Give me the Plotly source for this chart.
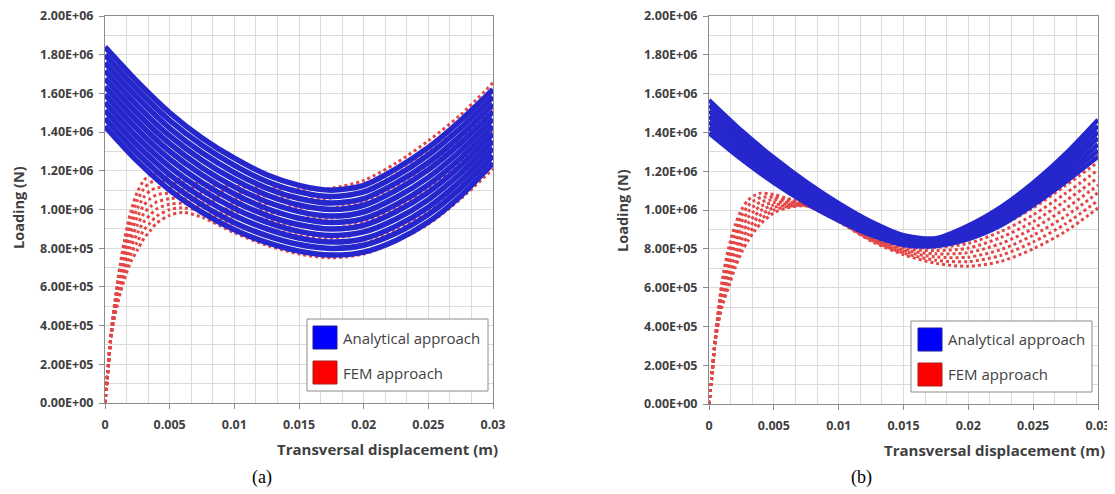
import numpy as np
import plotly.graph_objects as go

# ---------------- data ----------------
# transversal displacement sample positions (m)
x_analytical = [0, 0.0025, 0.005, 0.0075, 0.01, 0.0125, 0.015, 0.0175,
                0.02, 0.0225, 0.025, 0.0275, 0.03]
x_fem = [0, 0.0002, 0.0005, 0.001, 0.0015, 0.002, 0.0025, 0.003, 0.0035,
         0.004, 0.005, 0.006, 0.0075, 0.01, 0.0125, 0.015, 0.0175, 0.02,
         0.0225, 0.025, 0.0275, 0.03]

# loading in MN (converted to N when plotted)
a_analytical_MN = [
    [1.840, 1.660, 1.500, 1.370, 1.265, 1.180, 1.125, 1.100, 1.125, 1.210, 1.320, 1.460, 1.620],
    [1.799, 1.619, 1.460, 1.332, 1.228, 1.145, 1.091, 1.067, 1.091, 1.173, 1.282, 1.421, 1.582],
    [1.758, 1.578, 1.420, 1.293, 1.191, 1.110, 1.057, 1.033, 1.056, 1.136, 1.243, 1.382, 1.544],
    [1.717, 1.537, 1.380, 1.255, 1.154, 1.075, 1.023, 1.000, 1.022, 1.099, 1.205, 1.343, 1.506],
    [1.676, 1.496, 1.340, 1.216, 1.117, 1.040, 0.989, 0.966, 0.987, 1.062, 1.166, 1.304, 1.468],
    [1.635, 1.455, 1.300, 1.178, 1.080, 1.005, 0.955, 0.933, 0.953, 1.025, 1.128, 1.265, 1.430],
    [1.594, 1.414, 1.260, 1.139, 1.043, 0.970, 0.921, 0.899, 0.918, 0.988, 1.089, 1.226, 1.392],
    [1.553, 1.373, 1.220, 1.101, 1.006, 0.935, 0.887, 0.866, 0.884, 0.951, 1.051, 1.187, 1.354],
    [1.512, 1.332, 1.180, 1.062, 0.969, 0.900, 0.853, 0.832, 0.849, 0.914, 1.012, 1.148, 1.316],
    [1.471, 1.291, 1.140, 1.024, 0.932, 0.865, 0.819, 0.799, 0.815, 0.877, 0.974, 1.109, 1.278],
    [1.430, 1.250, 1.100, 0.985, 0.895, 0.830, 0.785, 0.765, 0.780, 0.840, 0.935, 1.070, 1.240],
]
a_fem_MN = [
    [0, 0.150, 0.380, 0.640, 0.840, 0.990, 1.090, 1.150, 1.180, 1.185, 1.170, 1.150, 1.130, 1.120, 1.110, 1.105, 1.110, 1.150, 1.240, 1.355, 1.490, 1.655],
    [0, 0.150, 0.377, 0.623, 0.811, 0.953, 1.047, 1.107, 1.139, 1.149, 1.141, 1.126, 1.106, 1.088, 1.069, 1.057, 1.059, 1.096, 1.182, 1.294, 1.428, 1.591],
    [0, 0.150, 0.374, 0.606, 0.783, 0.916, 1.004, 1.064, 1.097, 1.112, 1.113, 1.103, 1.083, 1.056, 1.029, 1.009, 1.007, 1.041, 1.124, 1.232, 1.366, 1.528],
    [0, 0.150, 0.371, 0.589, 0.754, 0.879, 0.961, 1.021, 1.056, 1.076, 1.084, 1.079, 1.059, 1.024, 0.988, 0.961, 0.956, 0.987, 1.066, 1.171, 1.304, 1.464],
    [0, 0.150, 0.369, 0.571, 0.726, 0.841, 0.919, 0.979, 1.014, 1.039, 1.056, 1.056, 1.036, 0.991, 0.947, 0.914, 0.904, 0.933, 1.009, 1.109, 1.241, 1.401],
    [0, 0.150, 0.366, 0.554, 0.697, 0.804, 0.876, 0.936, 0.973, 1.003, 1.027, 1.032, 1.012, 0.959, 0.906, 0.866, 0.853, 0.879, 0.951, 1.048, 1.179, 1.337],
    [0, 0.150, 0.363, 0.537, 0.669, 0.767, 0.833, 0.893, 0.931, 0.966, 0.999, 1.009, 0.989, 0.922, 0.860, 0.818, 0.801, 0.824, 0.893, 0.986, 1.117, 1.274],
    [0, 0.150, 0.360, 0.520, 0.640, 0.730, 0.790, 0.850, 0.890, 0.930, 0.970, 0.985, 0.960, 0.880, 0.815, 0.770, 0.750, 0.770, 0.835, 0.925, 1.055, 1.210],
]
b_analytical_MN = [
    [1.567, 1.410, 1.270, 1.145, 1.035, 0.940, 0.870, 0.855, 0.920, 1.015, 1.140, 1.290, 1.465],
    [1.539, 1.385, 1.248, 1.127, 1.020, 0.928, 0.862, 0.848, 0.908, 0.999, 1.121, 1.266, 1.433],
    [1.510, 1.361, 1.227, 1.108, 1.005, 0.917, 0.853, 0.842, 0.897, 0.983, 1.102, 1.242, 1.402],
    [1.482, 1.336, 1.205, 1.090, 0.990, 0.905, 0.845, 0.835, 0.885, 0.968, 1.083, 1.218, 1.370],
    [1.454, 1.311, 1.183, 1.072, 0.975, 0.893, 0.837, 0.828, 0.873, 0.952, 1.063, 1.193, 1.338],
    [1.425, 1.287, 1.162, 1.053, 0.960, 0.882, 0.828, 0.822, 0.862, 0.936, 1.044, 1.169, 1.307],
    [1.397, 1.262, 1.140, 1.035, 0.945, 0.870, 0.820, 0.815, 0.850, 0.920, 1.025, 1.145, 1.275],
]
b_fem_MN = [
    [0, 0.130, 0.350, 0.630, 0.800, 0.920, 1.000, 1.050, 1.075, 1.087, 1.080, 1.060, 1.035, 0.960, 0.875, 0.825, 0.840, 0.875, 0.950, 1.045, 1.165, 1.285],
    [0, 0.130, 0.347, 0.611, 0.771, 0.889, 0.969, 1.020, 1.049, 1.065, 1.066, 1.053, 1.033, 0.957, 0.870, 0.817, 0.824, 0.851, 0.919, 1.010, 1.126, 1.246],
    [0, 0.130, 0.344, 0.593, 0.743, 0.857, 0.937, 0.990, 1.022, 1.042, 1.053, 1.046, 1.031, 0.954, 0.865, 0.809, 0.807, 0.828, 0.889, 0.975, 1.086, 1.206],
    [0, 0.130, 0.341, 0.574, 0.714, 0.826, 0.906, 0.960, 0.996, 1.020, 1.039, 1.039, 1.029, 0.951, 0.860, 0.801, 0.791, 0.804, 0.858, 0.940, 1.047, 1.167],
    [0, 0.130, 0.339, 0.556, 0.686, 0.794, 0.874, 0.930, 0.969, 0.997, 1.026, 1.031, 1.026, 0.949, 0.855, 0.794, 0.774, 0.781, 0.827, 0.905, 1.008, 1.128],
    [0, 0.130, 0.336, 0.537, 0.657, 0.763, 0.843, 0.900, 0.943, 0.975, 1.012, 1.024, 1.024, 0.946, 0.850, 0.786, 0.758, 0.757, 0.796, 0.870, 0.968, 1.089],
    [0, 0.130, 0.333, 0.519, 0.629, 0.731, 0.811, 0.870, 0.916, 0.952, 0.999, 1.017, 1.022, 0.943, 0.845, 0.778, 0.741, 0.734, 0.766, 0.835, 0.929, 1.049],
    [0, 0.130, 0.330, 0.500, 0.600, 0.700, 0.780, 0.840, 0.890, 0.930, 0.985, 1.010, 1.020, 0.940, 0.840, 0.770, 0.725, 0.710, 0.735, 0.800, 0.890, 1.010],
]

y_tick_values = [0, 2e5, 4e5, 6e5, 8e5, 1e6, 1.2e6, 1.4e6, 1.6e6, 1.8e6, 2e6]
y_tick_labels = ["0.00E+00", "2.00E+05", "4.00E+05", "6.00E+05", "8.00E+05",
                 "1.00E+06", "1.20E+06", "1.40E+06", "1.60E+06", "1.80E+06", "2.00E+06"]
legend_labels = ["Analytical approach", "FEM approach"]
panel_captions = ["(a)", "(b)"]

# ---------------- figure ----------------
W, H = 1115, 494
OFF = 8  # page body margin, compensated so the picture lands where intended
BLUE = "rgb(38,38,205)"
RED = "rgb(228,70,70)"
GRID = "#dcdcdc"
TXT = "#3f3f3f"
FONT = "Open Sans"

fig = go.Figure()

panels = [
    dict(xa="x", ya="y", ana=a_analytical_MN, fem=a_fem_MN, bw=5.5),
    dict(xa="x2", ya="y2", ana=b_analytical_MN, fem=b_fem_MN, bw=4.5),
]
for p in panels:
    for row in p["fem"]:
        fig.add_trace(go.Scatter(
            x=x_fem, y=np.array(row) * 1e6, mode="lines",
            line=dict(color=RED, width=3, dash="dot", shape="spline", smoothing=0.8),
            xaxis=p["xa"], yaxis=p["ya"], showlegend=False, hoverinfo="skip"))
    for row in p["ana"]:
        fig.add_trace(go.Scatter(
            x=x_analytical, y=np.array(row) * 1e6, mode="lines",
            line=dict(color=BLUE, width=p["bw"], shape="spline", smoothing=0.8),
            xaxis=p["xa"], yaxis=p["ya"], showlegend=False, hoverinfo="skip"))

def px_x(v):
    return (v - OFF) / W

def px_y(v):
    return 1 - (v - OFF) / H

xaxis_common = dict(
    range=[0, 0.03], tick0=0, dtick=0.005, showgrid=True, gridcolor=GRID, gridwidth=1,
    minor=dict(dtick=0.005 / 3, tick0=0, showgrid=True, gridcolor=GRID, gridwidth=1),
    zeroline=False, showline=True, linecolor="#8c8c8c", linewidth=1, mirror=True,
    ticks="outside", ticklen=5, tickcolor="#8c8c8c", automargin=False,
    ticklabeloverflow="allow",
    tickfont=dict(family=FONT, size=12.5, color=TXT, weight="bold"),
    ticklabelstandoff=5, fixedrange=True)
yaxis_common = dict(
    range=[0, 2e6], tickmode="array", tickvals=y_tick_values, ticktext=y_tick_labels,
    showgrid=True, gridcolor=GRID, gridwidth=1,
    minor=dict(tickmode="linear", tick0=0, dtick=1e5, showgrid=True, gridcolor=GRID, gridwidth=1),
    zeroline=False, showline=True, linecolor="#8c8c8c", linewidth=1, mirror=True,
    ticks="outside", ticklen=5, tickcolor="#8c8c8c", automargin=False,
    ticklabeloverflow="allow",
    tickfont=dict(family=FONT, size=12.5, color=TXT, weight="bold"),
    ticklabelstandoff=3, fixedrange=True)

fig.update_layout(
    width=W, height=H, margin=dict(l=0, r=0, t=0, b=0, pad=0, autoexpand=False),
    paper_bgcolor="white", plot_bgcolor="white", showlegend=False,
    xaxis=dict(xaxis_common, domain=[px_x(105), px_x(493)], anchor="y"),
    yaxis=dict(yaxis_common, domain=[px_y(403), px_y(16)], anchor="x"),
    xaxis2=dict(xaxis_common, domain=[px_x(709), px_x(1098)], anchor="y2"),
    yaxis2=dict(yaxis_common, domain=[px_y(404), px_y(16)], anchor="x2"),
)

annotations = []
shapes = []
panel_geo = [
    dict(ytitle=(18, 208), xtitle=(387, 449), cap=(262, 477),
         box=(307, 319, 488, 391), sw=[(313, 326), (313, 361)], tx=341, ty=[338, 373]),
    dict(ytitle=(622, 210), xtitle=(994, 450), cap=(861, 477),
         box=(911, 321, 1092, 392), sw=[(918, 328), (918, 363)], tx=946, ty=[339, 374]),
]
sw_fill = ["#0000ff", "#ff0000"]
sw_line = ["#1c1c9c", "#b01c1c"]
for i, g in enumerate(panel_geo):
    annotations.append(dict(
        text="Loading (N)", x=px_x(g["ytitle"][0]), y=px_y(g["ytitle"][1]),
        xref="paper", yref="paper", showarrow=False, textangle=-90,
        xanchor="center", yanchor="middle",
        font=dict(family=FONT, size=14.5, color=TXT, weight="bold")))
    annotations.append(dict(
        text="Transversal displacement (m)", x=px_x(g["xtitle"][0]), y=px_y(g["xtitle"][1]),
        xref="paper", yref="paper", showarrow=False,
        xanchor="center", yanchor="middle",
        font=dict(family=FONT, size=15, color=TXT, weight="bold")))
    annotations.append(dict(
        text=panel_captions[i], x=px_x(g["cap"][0]), y=px_y(g["cap"][1]),
        xref="paper", yref="paper", showarrow=False,
        xanchor="center", yanchor="middle",
        font=dict(family="Liberation Serif", size=18, color="black")))
    x0, y0, x1, y1 = g["box"]
    shapes.append(dict(type="rect", xref="paper", yref="paper",
                       x0=px_x(x0), x1=px_x(x1), y0=px_y(y1), y1=px_y(y0),
                       line=dict(color="#8c8c8c", width=1), fillcolor="white", layer="above"))
    for k in range(2):
        sx, sy = g["sw"][k]
        shapes.append(dict(type="rect", xref="paper", yref="paper",
                           x0=px_x(sx), x1=px_x(sx + 24), y0=px_y(sy + 23), y1=px_y(sy),
                           line=dict(color=sw_line[k], width=1), fillcolor=sw_fill[k], layer="above"))
        annotations.append(dict(
            text=legend_labels[k], x=px_x(g["tx"]), y=px_y(g["ty"][k]),
            xref="paper", yref="paper", showarrow=False,
            xanchor="left", yanchor="middle",
            font=dict(family=FONT, size=15, color=TXT)))

fig.update_layout(annotations=annotations, shapes=shapes)
fig.write_html("out.html")
